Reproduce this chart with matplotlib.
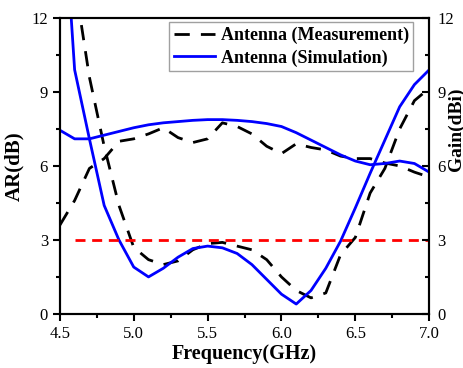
import matplotlib
matplotlib.use("Agg")
import matplotlib.pyplot as plt
from matplotlib.ticker import MultipleLocator

plt.rcParams['font.family'] = ['Liberation Serif', 'DejaVu Serif']

# frequency points (GHz)
freq = [4.5, 4.6, 4.7, 4.8, 4.9, 5.0, 5.1, 5.2, 5.3, 5.4, 5.5, 5.6, 5.7,
        5.8, 5.9, 6.0, 6.1, 6.2, 6.3, 6.4, 6.5, 6.6, 6.7, 6.8, 6.9, 7.0]

# axial ratio (dB)
ar_meas = [17.0, 13.5, 9.6, 6.8, 4.4, 2.7, 2.2, 2.0, 2.15, 2.6, 2.85, 2.9, 2.75,
           2.6, 2.2, 1.5, 0.95, 0.65, 0.85, 2.4, 3.1, 4.9, 5.9, 7.5, 8.65, 9.15]
ar_sim = [19.0, 9.9, 7.1, 4.4, 3.0, 1.9, 1.5, 1.85, 2.3, 2.65, 2.75, 2.68, 2.45,
          2.0, 1.4, 0.8, 0.4, 0.95, 1.85, 2.95, 4.3, 5.7, 7.05, 8.4, 9.3, 9.9]

# gain (dBi)
gain_meas = [3.6, 4.6, 5.9, 6.3, 7.0, 7.1, 7.3, 7.55, 7.15, 6.95, 7.1, 7.75, 7.6,
             7.3, 6.8, 6.5, 6.9, 6.75, 6.65, 6.4, 6.3, 6.3, 6.12, 6.0, 5.75, 5.55]
gain_sim = [7.45, 7.1, 7.1, 7.25, 7.4, 7.55, 7.67, 7.75, 7.8, 7.85, 7.88, 7.88, 7.85,
            7.8, 7.72, 7.6, 7.35, 7.05, 6.75, 6.45, 6.2, 6.05, 6.1, 6.2, 6.1, 5.75]

ar_limit = 3.0

fig = plt.figure(figsize=(4.64, 3.68), dpi=100)
ax = fig.add_axes([0.129, 0.147, 0.796, 0.804])
ax2 = ax.twinx()

dash_black = (0, (5.5, 4))
ax.plot(freq, ar_meas, color='black', lw=2, linestyle=dash_black,
        label='Antenna (Measurement)')
ax.plot(freq, ar_sim, color='#0000ff', lw=2, label='Antenna (Simulation)')
ax.plot([4.6, 7.0], [ar_limit, ar_limit], color='#ff0000', lw=2,
        linestyle=(0, (3.6, 2.4)))

ax2.plot(freq, gain_meas, color='black', lw=2, linestyle=dash_black)
ax2.plot(freq, gain_sim, color='#0000ff', lw=2)

for a, d in ((ax, 'out'), (ax2, 'in')):
    a.set_xlim(4.5, 7.0)
    a.set_ylim(0, 12)
    a.yaxis.set_major_locator(MultipleLocator(3))
    a.yaxis.set_minor_locator(MultipleLocator(1.5))
    a.tick_params(axis='y', which='major', direction=d, length=5, width=1.5, labelsize=12)
    a.tick_params(axis='y', which='minor', direction=d, length=3, width=1.5)
    for s in a.spines.values():
        s.set_linewidth(1.5)
ax2.tick_params(axis='y', which='major', pad=6)

ax.xaxis.set_major_locator(MultipleLocator(0.5))
ax.xaxis.set_minor_locator(MultipleLocator(0.25))
ax.xaxis.set_major_formatter(plt.FormatStrFormatter('%.1f'))
ax.tick_params(axis='x', which='major', direction='out', length=5, width=1.5, labelsize=12)
ax.tick_params(axis='x', which='minor', direction='out', length=3, width=1.5)

ax.set_xlabel('Frequency(GHz)', fontsize=14.5, fontweight='bold', labelpad=2)
ax.set_ylabel('AR(dB)', fontsize=15, fontweight='bold')
ax.yaxis.set_label_coords(-0.095, 0.5)
ax2.set_ylabel('Gain(dBi)', fontsize=14, fontweight='bold', rotation=90)
ax2.yaxis.set_label_coords(1.05, 0.625)

leg = ax.legend(loc='upper right', bbox_to_anchor=(0.957, 0.986), borderaxespad=0,
                prop={'weight': 'bold', 'size': 13}, handlelength=2.3,
                fancybox=False, framealpha=1, edgecolor='#a0a0a0',
                borderpad=0.25, labelspacing=0.3, handletextpad=0.3)
leg.get_frame().set_linewidth(1.0)

fig.savefig('out.png', dpi=100)
